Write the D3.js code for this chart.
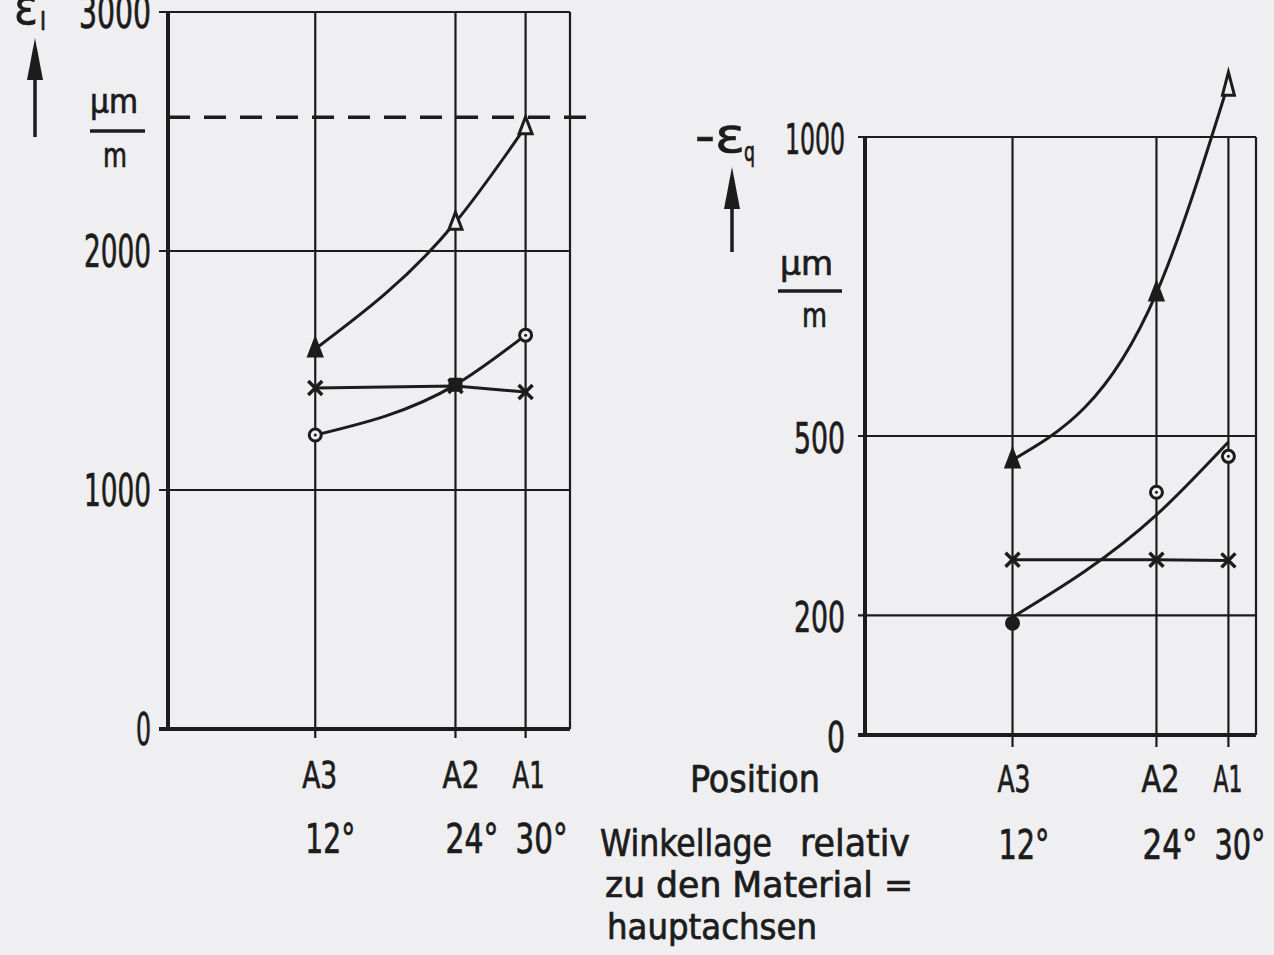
<!DOCTYPE html>
<html lang="de">
<head>
    <meta charset="UTF-8">
    <script src="https://d3js.org/d3.v7.min.js"></script>
    <title>Dehnungen über der Winkellage</title>
    <style>
        body {
            margin: 0;
            background: #efeff1;
        }
        svg text {
            font-family: "DejaVu Sans Condensed", "DejaVu Sans", sans-serif;
            fill: #1c1c1c;
            stroke: #1c1c1c;
            stroke-width: 0.7px;
        }
    </style>
</head>
<body>
    <div id="chart"></div>

    <script>
        // Messpositionen und Winkellage
        const positions = ["A3", "A2", "A1"];
        const angles = [12, 24, 30];
        const angleLabels = ["12°", "24°", "30°"];

        // linkes Diagramm: eps_l in um/m
        const leftTicks = [0, 1000, 2000, 3000];
        const leftTriangle = [1590, 2120, 2520];
        const leftCross = [1427, 1435, 1410];
        const leftCircle = [1230, 1440, 1648];
        const leftLimit = 2560;

        // rechtes Diagramm: -eps_q in um/m
        const rightTicks = [0, 200, 500, 1000];
        const rightTriangle = [460, 739, 1090];
        const rightCross = [293, 293, 292];
        const rightCircle = [187, 406, 466];
        const rightCircleFit = [197, 368, 490];

        const ink = "#1c1c1c";
        const bg = "#efeff1";

        const svg = d3.select("#chart")
            .append("svg")
            .attr("width", 1274)
            .attr("height", 955);

        const zip = vals => angles.map((a, i) => [a, vals[i]]);

        function text(x, y, str, size, len, anchor) {
            const t = svg.append("text")
                .attr("x", x)
                .attr("y", y)
                .attr("font-size", size)
                .attr("text-anchor", anchor || "start")
                .text(str);
            if (len) t.attr("textLength", len).attr("lengthAdjust", "spacingAndGlyphs");
            return t;
        }

        function hline(x1, x2, y, w) {
            svg.append("line").attr("x1", x1).attr("x2", x2).attr("y1", y).attr("y2", y)
                .attr("stroke", ink).attr("stroke-width", w);
        }
        function vline(x, y1, y2, w) {
            svg.append("line").attr("x1", x).attr("x2", x).attr("y1", y1).attr("y2", y2)
                .attr("stroke", ink).attr("stroke-width", w);
        }

        // markers
        function triangle(x, y, filled) {
            svg.append("path")
                .attr("d", `M${x},${y - 10}L${x + 6.5},${y + 7}L${x - 6.5},${y + 7}Z`)
                .attr("fill", filled ? ink : bg)
                .attr("stroke", ink).attr("stroke-width", 3);
        }
        function circle(x, y, filled) {
            svg.append("circle").attr("cx", x).attr("cy", y).attr("r", 6)
                .attr("fill", filled ? ink : bg)
                .attr("stroke", ink).attr("stroke-width", 3);
            if (!filled) svg.append("circle").attr("cx", x).attr("cy", y).attr("r", 1.5).attr("fill", ink);
        }
        function square(x, y) {
            svg.append("rect").attr("x", x - 7).attr("y", y - 7).attr("width", 14).attr("height", 14)
                .attr("rx", 2).attr("fill", ink);
        }
        function cross(x, y) {
            svg.append("path")
                .attr("d", `M${x - 7},${y - 7}L${x + 7},${y + 7}M${x + 7},${y - 7}L${x - 7},${y + 7}`)
                .attr("stroke", ink).attr("stroke-width", 3.5);
        }
        function arrowHead(x, y) {
            svg.append("path")
                .attr("d", `M${x},${y - 11}L${x + 6},${y + 12}L${x - 6},${y + 12}Z`)
                .attr("fill", bg).attr("stroke", ink).attr("stroke-width", 3);
        }

        function curve(x, y, vals, type) {
            const line = d3.line()
                .x(d => x(d[0]))
                .y(d => y(d[1]))
                .curve(type || d3.curveMonotoneX);
            svg.append("path")
                .datum(zip(vals))
                .attr("d", line)
                .attr("fill", "none")
                .attr("stroke", ink)
                .attr("stroke-width", 3);
        }

        // ---------- left chart ----------
        const xL = d3.scaleLinear().domain([-0.6, 33.8]).range([168, 570]);
        const yL = d3.scaleLinear().domain([0, 3000]).range([729, 12]);
        const lLeft = xL(-0.6), lRight = xL(33.8);

        leftTicks.forEach(v => {
            hline(lLeft - 9, lRight, yL(v), v === 0 ? 4 : 2.2);
        });
        angles.forEach(a => vline(xL(a), yL(3000), yL(0) + 9, 2.2));
        vline(lRight, yL(3000), yL(0), 2.2);
        vline(lLeft, yL(3000) - 1, yL(0) + 2, 4);

        svg.append("line")
            .attr("x1", lLeft).attr("x2", 592)
            .attr("y1", yL(leftLimit)).attr("y2", yL(leftLimit))
            .attr("stroke", ink).attr("stroke-width", 3.5)
            .attr("stroke-dasharray", "22 14");

        const leftTickW = { 0: 15, 1000: 67, 2000: 67, 3000: 72 };
        leftTicks.forEach(v => text(151, yL(v) + 16, String(v), 44, leftTickW[v], "end"));

        curve(xL, yL, leftTriangle);
        curve(xL, yL, leftCross, d3.curveLinear);
        curve(xL, yL, leftCircle);

        zip(leftTriangle).forEach((d, i) => triangle(xL(d[0]), yL(d[1]), i === 0));
        zip(leftCross).forEach(d => cross(xL(d[0]), yL(d[1])));
        zip(leftCircle).forEach((d, i) => i === 1 ? square(xL(d[0]), yL(d[1])) : circle(xL(d[0]), yL(d[1]), false));

        // left axis title
        text(14, 24, "ε", 50, 24);
        text(40, 30, "l", 24);
        vline(35, 78, 137, 3.5);
        svg.append("path").attr("d", "M35,38L43,80L27,80Z").attr("fill", ink);
        text(90, 113, "μm", 34, 48);
        hline(90, 145, 131, 3.5);
        text(103, 167, "m", 34, 24);

        const leftAW = [35, 37, 32], leftDW = [50, 53, 52];
        angles.forEach((a, i) => {
            text(xL(a) - 13, 788, positions[i], 38, leftAW[i]);
            text(xL(a) - 10, 853, angleLabels[i], 40, leftDW[i]);
        });

        // ---------- right chart ----------
        const xR = d3.scaleLinear().domain([-0.3, 32.3]).range([865, 1256]);
        const yR = d3.scaleLinear().domain([0, 1000]).range([735, 137]);
        const rLeft = xR(-0.3), rRight = xR(32.3);

        rightTicks.forEach(v => {
            hline(rLeft - 7, rRight, yR(v), v === 0 ? 4 : 2.2);
        });
        angles.forEach(a => vline(xR(a), yR(1000), yR(0) + 12, 2.2));
        vline(rRight, yR(1000), yR(0), 2.2);
        vline(rLeft, yR(1000) - 1, yR(0) + 2, 4);

        const rightTickW = { 0: 18, 200: 51, 500: 51, 1000: 60 };
        rightTicks.forEach(v => text(845, yR(v) + 17, String(v), 42, rightTickW[v], "end"));

        curve(xR, yR, rightTriangle);
        curve(xR, yR, rightCross, d3.curveLinear);
        curve(xR, yR, rightCircleFit);

        zip(rightTriangle).forEach((d, i) => i < 2 ? triangle(xR(d[0]), yR(d[1]), true) : arrowHead(xR(d[0]), yR(d[1])));
        zip(rightCross).forEach(d => cross(xR(d[0]), yR(d[1])));
        zip(rightCircle).forEach((d, i) => circle(xR(d[0]), yR(d[1]), i === 0));

        // right axis title
        text(695, 152, "-ε", 48, 50);
        text(744, 161, "q", 26, 11);
        vline(732, 200, 252, 3.5);
        svg.append("path").attr("d", "M732,167L740,209L724,209Z").attr("fill", ink);
        text(780, 275, "μm", 34, 53);
        hline(778, 842, 291, 3.5);
        text(802, 327, "m", 34, 25);

        const rightAW = [33, 38, 29], rightDW = [51, 55, 51];
        angles.forEach((a, i) => {
            text(xR(a) - 15, 792, positions[i], 38, rightAW[i]);
            text(xR(a) - 14, 859, angleLabels[i], 40, rightDW[i]);
        });

        // ---------- x axis description ----------
        text(690, 792, "Position", 38, 130);
        text(600, 856, "Winkellage", 38, 172);
        text(800, 856, "relativ", 38, 110);
        text(605, 897, "zu den Material =", 36, 308);
        text(607, 939, "hauptachsen", 36, 210);
    </script>
</body>
</html>
